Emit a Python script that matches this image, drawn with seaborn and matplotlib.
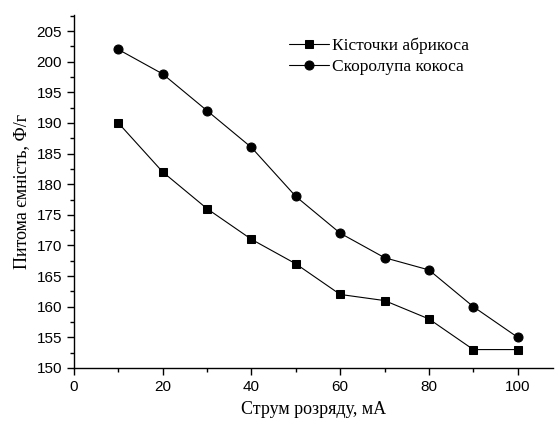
import numpy as np
import pandas as pd
import matplotlib
matplotlib.use("Agg")
import matplotlib.pyplot as plt
from matplotlib.ticker import MultipleLocator
import seaborn as sns

current = [10, 20, 30, 40, 50, 60, 70, 80, 90, 100]
apricot = [190, 182, 176, 171, 167, 162, 161, 158, 153, 153]
coconut = [202, 198, 192, 186, 178, 172, 168, 166, 160, 155]
series_names = ["Кісточки абрикоса", "Скоролупа кокоса"]

df = pd.DataFrame({
    "x": current * 2,
    "y": apricot + coconut,
    "series": [series_names[0]] * len(current) + [series_names[1]] * len(current),
})

sns.set_style("ticks")
plt.rcParams["font.family"] = ["Liberation Sans", "DejaVu Sans"]
plt.rcParams["text.color"] = "black"
plt.rcParams["axes.labelcolor"] = "black"
plt.rcParams["xtick.color"] = "black"
plt.rcParams["ytick.color"] = "black"
plt.rcParams["axes.edgecolor"] = "black"

fig = plt.figure(figsize=(5.56, 4.21), dpi=100)
ax = fig.add_axes([0.133, 0.126, 0.862, 0.838])

sns.lineplot(data=df, x="x", y="y", hue="series", style="series",
             markers={series_names[0]: "s", series_names[1]: "o"},
             dashes=False, palette=["black", "black"], linewidth=0.8,
             markersize=6.5, markeredgecolor="black", ax=ax)

# squares look bigger than circles at the same size
for ln in ax.lines:
    if ln.get_marker() == "s":
        ln.set_markersize(5.5)

ax.set_xlim(0, 108)
ax.set_ylim(150, 207.6)
ax.xaxis.set_major_locator(MultipleLocator(20))
ax.xaxis.set_minor_locator(MultipleLocator(10))
ax.yaxis.set_major_locator(MultipleLocator(5))
ax.yaxis.set_minor_locator(MultipleLocator(2.5))
ax.tick_params(which="major", direction="out", length=5, width=1, labelsize=11)
ax.tick_params(which="minor", direction="out", length=3, width=1)
for s in ["top", "right"]:
    ax.spines[s].set_visible(False)
for s in ["left", "bottom"]:
    ax.spines[s].set_linewidth(1)

serif = ["Liberation Serif", "DejaVu Serif"]
ax.set_xlabel("Струм розряду, мА", family=serif, fontsize=13, labelpad=5)
ax.set_ylabel("Питома ємність, Ф/г", family=serif, fontsize=13, labelpad=5)

leg = ax.legend(loc="upper left", bbox_to_anchor=(0.43, 0.96), frameon=False,
                prop={"family": serif, "size": 12.5}, handlelength=2.3,
                handletextpad=0.2, labelspacing=0.25, borderpad=0)
for h in leg.get_lines():
    if h.get_marker() == "s":
        h.set_markersize(5.5)

fig.savefig("out.png", dpi=100)
